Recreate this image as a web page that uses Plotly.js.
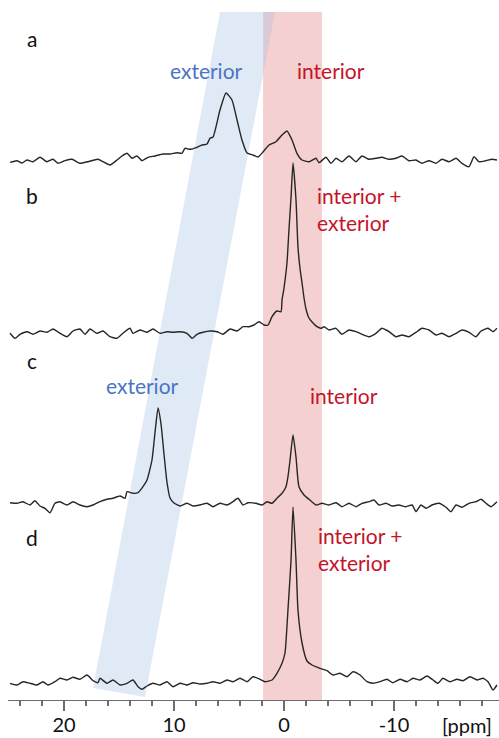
<!DOCTYPE html>
<html>
<head>
<meta charset="utf-8">
<script src="https://cdn.plot.ly/plotly-3.0.1.min.js"></script>
<style>html,body{margin:0;padding:0;background:#fff;}#chart{width:499px;height:738px;}</style>
</head>
<body>
<div id="chart"></div>
<script>
// ---- data (chemical shift in ppm, intensity relative to each trace's baseline) ----
const ppmA = [24.9,24.27,23.82,23.36,22.82,22.18,21.55,21.0,20.55,19.91,19.27,18.55,17.82,16.91,16.45,15.82,15.18,14.73,14.27,13.82,13.36,12.91,12.36,11.73,11.0,10.36,9.73,9.27,9.0,8.55,7.91,7.45,7.0,6.73,6.45,5.82,5.27,4.73,4.27,3.82,3.36,2.82,2.36,1.91,1.36,0.73,0.18,-0.27,-0.73,-1.18,-1.64,-2.27,-2.91,-3.18,-3.82,-4.27,-4.73,-5.27,-5.91,-6.55,-7.09,-7.73,-8.36,-8.91,-9.55,-10.18,-10.73,-11.36,-12.0,-12.55,-13.18,-13.82,-14.36,-15.0,-15.64,-16.18,-16.82,-17.27,-17.73,-18.36,-18.91,-19.36];
const intA = [-2.3,-0.7,-3,0,-1.7,2.7,-1.7,0.7,-3.3,-0.7,0.7,-3.3,-1.7,0.7,-1.7,-5,0,4,6.7,1.7,4,-0.7,2.7,4,6,6,7.3,6.7,11.7,10.7,12.7,15,16,21.7,23,50,67,60,40,20,7,5,3,8,15,18.3,25,29,20,6.7,0,-1.7,1.7,-2.7,2.7,-3.3,1.7,-1.7,4,-1.7,4,0.7,1.7,2.7,0.7,1.7,4,-0.7,0,-3.3,-0.7,-3.3,0.7,-1.7,1.7,-3.3,-6.7,3.3,-1.7,-0.7,0.7,0];

const ppmB = [24.91,24.45,24.0,23.36,22.82,22.18,21.55,21.0,20.36,19.73,19.18,18.55,18.09,17.64,17.0,16.45,15.82,15.18,14.64,14.0,13.73,13.09,12.45,11.91,11.27,10.64,10.09,9.45,8.82,8.36,7.91,7.36,6.73,6.09,5.55,4.91,4.27,3.73,3.18,2.73,2.27,1.82,1.45,1.09,0.64,0.27,0.18,0.0,-0.27,-0.45,-0.64,-0.82,-1.09,-1.27,-1.45,-1.64,-1.82,-2.0,-2.27,-2.55,-3.0,-3.36,-3.64,-4.09,-4.73,-5.27,-5.91,-6.55,-7.09,-7.73,-8.36,-8.91,-9.27,-9.55,-10.18,-10.73,-11.36,-12.0,-12.55,-13.18,-13.82,-14.36,-15.0,-15.64,-16.18,-16.82,-17.45,-17.91,-18.55,-19.0,-19.36];
const intB = [-0.3,-5.3,-1.3,1.3,-1.3,2,0.7,4,-0.3,-3.7,2,4,-1.3,4,-0.3,2,-3.7,-5.3,-0.3,4.7,-0.3,3,0.7,4,-0.3,1.3,0.7,1.3,-0.3,-5.3,-1.3,0.7,2,1.3,-1.3,4,2,6.3,6.3,8,11.3,8,8,16.3,22,21.3,33,45,70,103,136,170,133,86,65,50,35,24,15,11,6.3,4.7,6.3,3,4.7,-1.3,3,1.3,-1.3,-3.7,-0.3,4.7,3,1.3,-3.7,-2,-3.7,0.7,4.7,3,-2,-0.3,-3.7,-0.3,3,0.7,-3.7,2,4.7,1.3,4.7];

const ppmC = [24.91,24.27,23.73,23.09,22.64,22.18,21.73,21.27,20.82,20.36,19.73,19.18,18.55,17.91,17.36,16.73,16.09,15.55,14.91,14.45,14.27,13.73,13.27,12.82,12.45,12.0,11.73,11.45,11.18,10.91,10.64,10.36,10.0,9.45,8.82,8.27,7.64,7.0,6.45,5.82,5.18,4.64,4.18,3.73,3.27,2.55,2.0,1.55,1.09,0.64,0.18,-0.18,-0.36,-0.55,-0.82,-1.09,-1.36,-1.82,-2.27,-2.91,-3.45,-4.09,-4.73,-5.27,-5.91,-6.55,-7.09,-7.73,-8.18,-8.64,-9.27,-9.82,-10.45,-11.09,-11.64,-12.0,-12.45,-12.91,-13.45,-14.09,-14.73,-15.18,-15.64,-16.18,-16.82,-17.45,-17.91,-18.36,-18.82,-19.36];
const intC = [1.3,0.7,2.3,-1,3.3,-2,-4.3,-8.7,0.7,2.3,-1,2.3,-1,-2.7,-1,2.3,4.7,5.7,8,5.7,12.3,10.7,11.3,17.3,24,44,71,96,80,50,22,6,1,-2,0.7,-2,-1,0.7,-2.7,0.7,-1,2.3,5.7,-1,1.3,0.7,-1,2.3,0.7,5.7,10.7,17.3,27.3,44,69,47,17.3,9,4.7,-1,0.7,-1,1.3,-2.7,0.7,-2.7,0.7,2.3,4,-1,0.7,-2,-1,-2.7,-1,-7.7,-1,-4.3,-1,0.7,-3.3,-7.7,-1,-3.3,0.7,2.3,4.7,0.7,-2.7,2.3];

const ppmD = [24.91,24.27,23.73,23.09,22.45,21.91,21.45,20.82,20.36,19.73,19.18,18.55,17.91,17.36,16.91,16.73,16.09,15.55,14.91,14.27,13.73,13.27,12.91,12.45,11.91,11.27,10.64,10.09,9.45,8.82,8.27,7.64,7.0,6.45,5.82,5.18,4.64,4.0,3.36,2.82,2.18,1.73,1.09,0.64,0.18,-0.09,-0.36,-0.64,-0.82,-1.09,-1.27,-1.64,-2.09,-2.55,-3.27,-3.91,-4.45,-5.09,-5.73,-6.27,-6.91,-7.55,-8.09,-8.73,-9.36,-9.91,-10.55,-11.18,-11.73,-12.36,-13.0,-13.55,-14.0,-14.45,-15.09,-15.73,-16.27,-16.91,-17.55,-18.09,-18.55,-19.0,-19.36];
const intD = [-1.3,-3,0.3,-1.3,-3,0.3,-3,0.3,3.7,2,4.7,2.7,7,1.3,-0.7,3.7,-1.3,2,-3,-1.3,2,-4.7,-7.3,-4,-1.3,-3,0.3,-4.7,-1.3,-3,-0.7,-2,-1.3,0.3,-1.3,2,0.3,3.7,0.3,5.3,2.7,0.3,2,8.7,18.7,29,72,122,175,122,72,39,21,17,13.7,11.3,7,8.7,5.3,10.3,7,0.3,-1.3,0.3,2.7,-0.7,2.7,0.3,3.7,2,6,2,-1.3,3.7,0.3,2.7,1.3,5.3,2,3.7,0.3,-8,-3];

const panelLabels = ["a","b","c","d"];
const tickValues = [20, 10, 0, -10];
const unitLabel = "[ppm]";

// ---- layout helpers (positions/styles) ----
const offsets = [540, 367, 196, 18];
const series = [[ppmA,intA],[ppmB,intB],[ppmC,intC],[ppmD,intD]];
const traces = series.map((s, i) => ({
  x: s[0],
  y: s[1].map(v => v + offsets[i]),
  type: 'scatter', mode: 'lines',
  line: {color: '#262626', width: 1.4, shape: 'spline', smoothing: 0.5},
  hoverinfo: 'skip', showlegend: false
}));

const FONT = "Lato, 'Open Sans', sans-serif";
const BLUE = '#4a74c4';
const RED = '#c4142a';
const labelY = [662, 505, 340, 163];

const annotations = [];
panelLabels.forEach((t, i) => annotations.push({
  x: 22.91, y: labelY[i], xref: 'x', yref: 'y', text: t, showarrow: false,
  font: {family: FONT, size: 21, color: '#111'}, xanchor: 'center', yanchor: 'middle'
}));
annotations.push(
  {x: 7.09, y: 630, xref:'x', yref:'y', text:'exterior', showarrow:false, font:{family:FONT,size:21,color:BLUE}},
  {x: -4.27, y: 630, xref:'x', yref:'y', text:'interior', showarrow:false, font:{family:FONT,size:21,color:RED}},
  {x: -2.82, y: 491.5, xref:'x', yref:'y', text:'interior +<br>exterior', align:'left', xanchor:'left', yanchor:'middle', showarrow:false, font:{family:FONT,size:21,color:RED}},
  {x: 12.86, y: 315, xref:'x', yref:'y', text:'exterior', showarrow:false, font:{family:FONT,size:21,color:BLUE}},
  {x: -5.45, y: 305, xref:'x', yref:'y', text:'interior', showarrow:false, font:{family:FONT,size:21,color:RED}},
  {x: -2.91, y: 151.5, xref:'x', yref:'y', text:'interior +<br>exterior', align:'left', xanchor:'left', yanchor:'middle', showarrow:false, font:{family:FONT,size:21,color:RED}},
  {x: 0.935, y: -0.036, xref:'paper', yref:'paper', text: unitLabel, showarrow:false, xanchor:'center', yanchor:'middle', font:{family:FONT,size:20,color:'#111'}}
);

const shapes = [
  {type:'rect', xref:'x', yref:'y', x0: 1.9, x1: -3.45, y0: 0, y1: 688, layer:'below',
   fillcolor:'rgb(225,120,120)', opacity:0.35, line:{width:0}},
  {type:'path', xref:'x', yref:'y', layer:'below',
   path:'M 5.82 688 L 0.82 688 L 12.64 3 L 17.36 12 Z',
   fillcolor:'rgb(160,190,230)', opacity:0.33, line:{width:0}}
];

const layout = {
  width: 499, height: 738,
  margin: {l: 8, r: 0, t: 0, b: 38},
  paper_bgcolor: '#fff', plot_bgcolor: '#fff',
  showlegend: false, hovermode: false,
  xaxis: {
    range: [25.09, -19.545], showgrid: false, zeroline: false,
    showline: true, linecolor: '#6e6e6e', linewidth: 1.3,
    ticks: 'outside', ticklen: 10, tickwidth: 1.2, tickcolor: '#6e6e6e',
    tickmode: 'array', tickvals: tickValues, ticktext: tickValues.map(String),
    tickfont: {family: FONT, size: 20, color: '#111'},
    ticklabelstandoff: -3,
    minor: {dtick: 2, tick0: 0, ticks: 'outside', ticklen: 5, tickwidth: 1.2, tickcolor: '#6e6e6e', showgrid: false},
    fixedrange: true
  },
  yaxis: {range: [0, 700], visible: false, showgrid: false, zeroline: false, fixedrange: true},
  shapes: shapes,
  annotations: annotations
};

Plotly.newPlot('chart', traces, layout, {displayModeBar: false, staticPlot: true});
</script>
</body>
</html>
